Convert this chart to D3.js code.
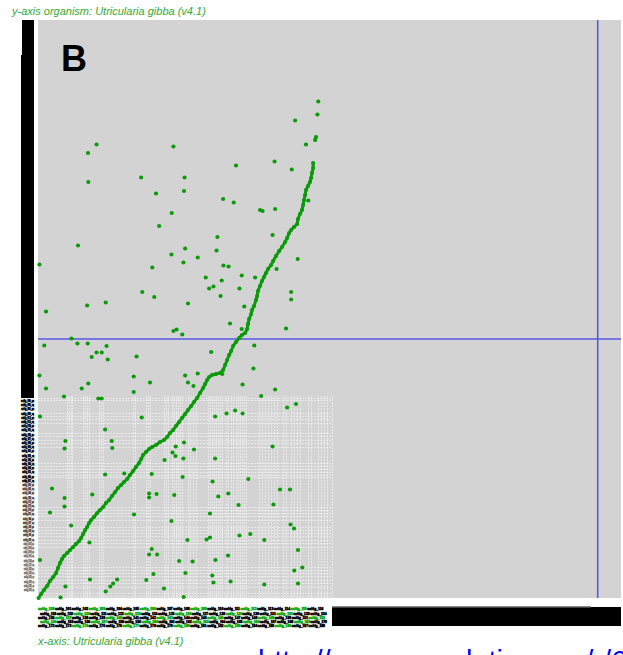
<!DOCTYPE html>
<html>
<head>
<meta charset="utf-8">
<script src="https://cdn.jsdelivr.net/npm/d3@7/dist/d3.min.js"></script>
<style>
  html, body { margin: 0; padding: 0; background: #fff; overflow: hidden; }
  text { font-family: "Liberation Sans", Arial, sans-serif; }
</style>
</head>
<body>
<svg id="chart" width="623" height="655"></svg>
<script>
// Self-comparison dot plot, Utricularia gibba v4.1 (positions in Mb)

// syntenic diagonal (x, y)
const diagX = [0.2,1.1,2.1,3.2,4.2,5.3,6.3,7.0,7.7,8.4,9.1,10.2,11.2,12.3,13.3,14.4,15.1,15.8,16.5,17.2,17.9,18.6,19.6,20.7,21.7,22.8,23.8,24.9,25.9,27.0,28.0,29.1,30.1,31.2,32.2,33.3,34.3,35.4,36.1,36.8,37.8,38.9,39.9,41.3,42.7,44.1,45.2,46.2,47.3,48.3,49.4,50.4,51.5,52.5,53.6,54.6,55.7,56.7,57.8,58.5,59.2,59.9,60.9,62.3,63.7,64.8,65.5,66.2,66.9,67.6,68.3,69.3,70.4,71.4,72.5,73.2,73.5,73.9,74.6,74.9,75.6,76.3,76.7,77.0,77.7,78.4,79.1,79.8,80.5,81.6,82.3,83.3,84.4,85.4,86.5,87.2,87.9,88.6,89.6,90.7,91.0,91.7,92.4,92.8,93.1,93.5,93.8,94.5,95.2,95.6,95.9,96.3,96.3];
const diagY = [0.0,0.8,1.6,2.4,3.4,4.2,5.0,6.0,7.0,7.8,8.4,9.0,9.6,10.2,10.8,11.4,12.0,12.8,13.6,14.2,15.0,15.6,16.2,17.0,17.6,18.2,19.0,19.6,20.4,21.2,22.0,22.6,23.2,23.8,24.6,25.4,26.2,27.0,27.8,28.6,29.2,29.8,30.2,30.6,31.2,31.6,32.2,33.0,33.6,34.4,35.2,36.0,36.8,37.6,38.4,39.2,40.0,41.0,42.0,42.8,43.6,44.2,44.6,44.8,45.0,45.6,46.6,47.6,48.6,49.4,50.4,51.2,52.0,52.6,53.0,53.8,54.8,55.8,56.8,57.6,58.4,59.6,60.4,61.4,62.4,63.4,64.2,65.0,65.8,66.6,67.4,68.4,69.4,70.2,71.2,72.0,73.0,73.6,74.2,74.8,75.8,76.8,77.6,78.6,79.6,80.6,81.6,82.4,83.2,84.0,85.0,86.0,87.0];
// short block at the top end of the diagonal
const tipX = [97.0,97.3];
const tipY = [91.6,92.2];

// off-diagonal hits
const hitX = [98.1,97.8,90.0,93.8,20.5,47.4,17.5,82.8,69.3,88.8,36.1,51.3,17.6,51.1,41.3,64.8,68.5,77.7,78.6,83.0,46.8,42.4,94.6,62.8,82.1,14.0,51.5,62.5,46.7,55.9,90.9,50.9,0.5,64.9,66.7,40.0,83.5,71.3,58.7,76.0,64.3,61.4,59.9,70.5,36.5,88.6,40.7,63.9,88.6,23.7,52.5,17.2,72.2,2.8,67.2,86.8,71.3,47.4,48.5,50.5,11.7,13.8,17.4,2.2,75.7,24.0,60.6,20.5,22.3,34.5,18.8,24.4,75.4,64.5,55.9,51.5,0.5,33.5,39.2,52.5,17.6,71.6,54.4,2.8,15.3,83.0,33.5,78.1,9.1,21.1,22.3,87.2,69.0,90.3,66.0,71.6,62.0,0.7,36.3,23.5,9.6,25.8,51.1,48.2,82.1,9.3,26.0,54.6,47.1,48.1,50.9,62.0,44.3,39.8,30.2,23.5,50.6,61.1,73.6,4.9,84.7,88.2,66.6,38.9,41.5,19.0,47.7,63.1,38.9,9.3,70.2,82.4,9.3,4.2,60.2,33.6,46.7,88.4,11.6,89.6,74.3,70.5,60.2,59.0,52.3,79.2,18.0,39.8,91.0,38.9,41.7,66.5,62.1,0.7,49.4,54.1,92.5,89.7,51.6,40.4,61.0,18.2,27.7,37.9,67.4,61.4,26.3,91.0,79.2,9.6,25.3,44.1,23.7,51.0,7.9];
const hitY = [99.3,96.7,95.5,90.7,90.7,90.3,89.0,87.3,86.5,85.7,84.1,84.1,83.2,81.4,80.9,79.8,79.1,77.6,77.4,77.8,77.0,74.4,79.5,72.2,72.6,70.5,69.9,69.5,68.7,68.1,67.8,67.1,66.7,66.5,66.3,66.1,65.8,64.5,64.1,64.1,63.5,62.3,61.9,61.9,61.2,61.2,60.2,60.4,59.7,59.1,58.9,58.5,58.3,57.3,54.9,53.9,53.8,53.4,53.7,52.7,51.9,50.9,50.9,50.5,50.5,50.4,49.2,49.1,49.1,48.3,48.2,47.7,45.9,44.8,44.9,44.5,44.5,44.3,43.1,43.1,42.9,42.7,42.4,41.9,41.9,41.7,41.2,40.4,40.3,39.9,39.9,38.1,37.5,38.8,36.9,36.9,36.3,36.3,36.1,33.7,31.4,31.4,31.1,30.3,30.3,29.9,30.0,29.7,29.1,28.4,27.9,27.9,27.6,24.8,24.9,24.7,24.2,23.3,23.8,21.9,21.7,21.7,20.9,20.9,20.8,20.7,20.6,20.3,20.1,20.0,18.6,18.7,18.3,17.1,16.9,16.7,15.4,14.7,14.5,13.9,12.8,12.5,12.1,11.7,11.6,11.6,11.1,9.8,9.6,8.7,8.7,8.5,7.6,7.6,7.4,7.3,6.1,5.5,5.0,4.8,4.5,3.7,3.7,3.6,3.3,3.1,2.9,2.9,2.7,2.3,2.3,1.9,1.3,0.2,0.1];

// contig boundaries of the small-scaffold block
const edgesX = [10.2,10.9,11.6,11.9,15.8,16.5,17.2,17.9,21.4,22.1,22.8,33.3,34.0,37.8,38.5,39.2,44.1,44.8,45.5,46.9,47.6,48.3,49.0,49.7,50.4,52.5,53.2,54.3,55.3,59.5,60.2,60.9,61.6,62.3,63.0,63.7,64.4,65.8,66.5,67.6,68.3,69.3,70.0,70.7,71.4,72.1,72.8,77.4,78.4,79.5,80.5,81.6,82.6,83.7,85.8,86.8,88.6,89.6,90.7,91.7,94.5,95.6,98.0,99.1,100.1,101.2,102.9];
const edgesY = [40.0,39.6,37.0,36.4,35.8,35.0,33.0,32.4,31.6,31.0,30.2,27.0,26.4,25.8,25.2,24.6,24.2,18.2,17.6,17.0,16.4,15.6,14.2,13.6,13.0,12.4,11.6,11.0,10.2,6.2,5.6,5.0,4.4,3.6,3.0,2.2,1.0,0.4];
const blockX = [0, 102.9];   // extent of that block on x
const blockY = [0, 40.4];    // and on y

// highlighted position
const cursorX = 195.9, cursorY = 51.8;

const xLen = 204.05, yLen = 115.6;
const yTitle = "y-axis organism: Utricularia gibba (v4.1)";
const xTitle = "x-axis: Utricularia gibba (v4.1)";
const panel = "B";
const link = "http://genomevolution.org/r/6lik";
const contigPrefix = "unitig_";

const svg = d3.select("#chart");
const x = d3.scaleLinear().domain([0, xLen]).range([38, 621]);
const y = d3.scaleLinear().domain([0, yLen]).range([598, 20]);

const dotGreen = "#0a9a0a";
const textGreen = "#35a835";
const labelGreen = "#10a810";

// titles
svg.append("text").attr("x", 12).attr("y", 15)
  .attr("font-size", 11).attr("font-style", "italic").attr("fill", textGreen)
  .text(yTitle);

// plot background
svg.append("rect").attr("x", x(0)).attr("y", y(yLen))
  .attr("width", x(xLen) - x(0)).attr("height", y(0) - y(yLen))
  .attr("fill", "#d3d3d3");

// contig boundary lattice
const lat = svg.append("g").attr("stroke", "#ffffff").attr("stroke-opacity", 0.5)
  .attr("stroke-width", 1).attr("stroke-dasharray", "2,1");
lat.selectAll("line.v").data(edgesX).join("line").attr("class", "v")
  .attr("x1", d => Math.round(x(d)) + 0.5).attr("x2", d => Math.round(x(d)) + 0.5)
  .attr("y1", y(blockY[1])).attr("y2", y(0));
lat.selectAll("line.h").data(edgesY).join("line").attr("class", "h")
  .attr("y1", d => Math.round(y(d)) + 0.5).attr("y2", d => Math.round(y(d)) + 0.5)
  .attr("x1", x(blockX[0])).attr("x2", x(blockX[1]));

// cursor lines
svg.append("line").attr("x1", x(cursorX)).attr("x2", x(cursorX))
  .attr("y1", y(yLen)).attr("y2", y(0))
  .attr("stroke", "#5858e8").attr("stroke-width", 1.6);
svg.append("line").attr("y1", y(cursorY)).attr("y2", y(cursorY))
  .attr("x1", x(0)).attr("x2", x(xLen))
  .attr("stroke", "#5858e8").attr("stroke-width", 1.4);

// diagonal
const diag = diagX.map((d, i) => [d, diagY[i]]);
const line = d3.line().x(d => x(d[0])).y(d => y(d[1]));
svg.append("path").attr("d", line(diag)).attr("fill", "none")
  .attr("stroke", dotGreen).attr("stroke-width", 3).attr("stroke-linecap", "round");
const tip = tipX.map((d, i) => [d, tipY[i]]);
svg.append("path").attr("d", line(tip)).attr("fill", "none")
  .attr("stroke", dotGreen).attr("stroke-width", 3).attr("stroke-linecap", "round");

const hits = hitX.map((d, i) => [d, hitY[i]]).concat(diag, tip);
svg.append("g").selectAll("circle").data(hits).join("circle")
  .attr("cx", d => x(d[0])).attr("cy", d => y(d[1])).attr("r", 2.1)
  .attr("fill", dotGreen);

// panel letter
svg.append("text").attr("x", 61).attr("y", 71)
  .attr("font-size", 36).attr("font-weight", "bold").attr("fill", "#000")
  .text(panel);

// ---- y-axis contig labels ----
// large scaffolds: their labels pile up into a solid band
svg.append("rect").attr("x", 22).attr("y", y(yLen)).attr("width", 12).attr("height", 36).attr("fill", "#000");
svg.append("rect").attr("x", 21).attr("y", y(yLen) + 35).attr("width", 13).attr("height", y(blockY[1]) - y(yLen) - 33).attr("fill", "#000");
// small scaffolds: one row of tiny labels each
const yRows = d3.range(blockY[1] - 0.9, 1.2, -0.84);
svg.append("g").attr("text-anchor", "end")
  .selectAll("text").data(yRows).join("text")
  .attr("x", 34).attr("y", d => y(d) + 1.4)
  .attr("font-size", 3.3).attr("font-weight", "bold")
  .attr("fill", (d, i) => i < 20 ? "#000" : (i < 34 ? "#222" : "#444"))
  .attr("stroke", (d, i) => i < 20 ? "#000" : (i < 34 ? "#333" : "#666"))
  .attr("stroke-width", (d, i) => i < 20 ? 0.6 : 0.35)
  .attr("textLength", (d, i) => 13 - Math.min(3, i / 14))
  .attr("lengthAdjust", "spacingAndGlyphs")
  .text((d, i) => contigPrefix + (900 + i * 3) + "_" + (i % 2 ? "sq" : "qs"));

// ---- x-axis contig labels: staggered rows, laid end to end ----
const xRowsY = d3.range(610.3, 628, 4.2);
const xRowG = svg.append("g");
let labelNo = 100;
xRowsY.forEach((ry, r) => {
  let cx = x(0) + (r % 2) * 2;
  for (let k = 0; k < 60; k++) {
    const c = (k + r) % 3 === 0 ? labelGreen : "#000";
    const t = xRowG.append("text").attr("x", cx).attr("y", ry)
      .attr("font-size", 3.3).attr("font-weight", "bold")
      .attr("fill", c).attr("stroke", c).attr("stroke-width", 0.5)
      .text(contigPrefix + (labelNo++));
    const w = t.node().getComputedTextLength();
    if (cx + w > x(blockX[1])) { t.remove(); break; }
    cx += w + 0.6;
  }
});
// remaining scaffolds are packed solid
svg.append("rect").attr("x", x(blockX[1])).attr("y", 607)
  .attr("width", x(xLen) - x(blockX[1])).attr("height", 19).attr("fill", "#000");
svg.append("rect").attr("x", x(blockX[1])).attr("y", 606)
  .attr("width", x(xLen) - 30 - x(blockX[1])).attr("height", 1.5).attr("fill", "#888");

svg.append("text").attr("x", 38).attr("y", 645)
  .attr("font-size", 11).attr("font-style", "italic").attr("fill", textGreen)
  .text(xTitle);

svg.append("text").attr("x", 258).attr("y", 671)
  .attr("font-family", "Liberation Serif, serif").attr("font-size", 29)
  .attr("fill", "#0000ff").text(link);
</script>
</body>
</html>
